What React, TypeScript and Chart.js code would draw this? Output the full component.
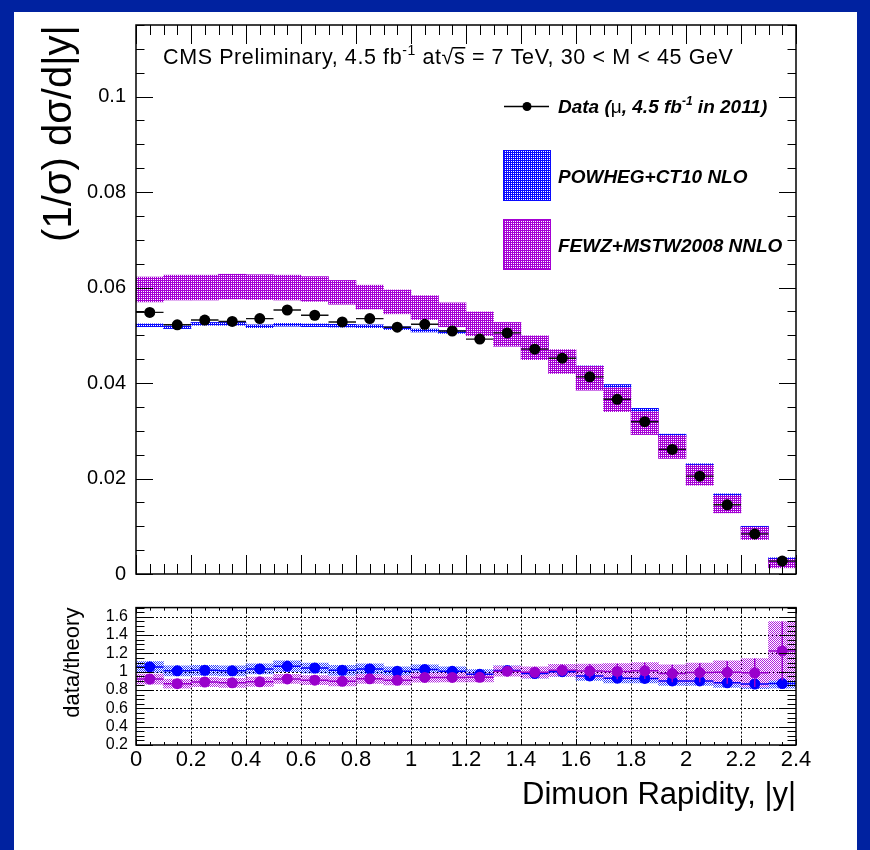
import React, { useEffect, useRef } from "react";
import { Chart, registerables } from "chart.js";

Chart.register(...registerables);

const FONT = '"Liberation Sans", Arial, Helvetica, sans-serif';
const FRAME_BLUE = "#0022a0";
const POWHEG_COLOR = "#0a0aff";
const FEWZ_COLOR = "#a400d4";
const POWHEG_POINT = "#0000ff";
const FEWZ_POINT = "#9900cc";

// Dimuon |y| bin centres, bins are 0.1 wide
const rapidity = [
  0.05, 0.15, 0.25, 0.35, 0.45, 0.55, 0.65, 0.75, 0.85, 0.95, 1.05, 1.15,
  1.25, 1.35, 1.45, 1.55, 1.65, 1.75, 1.85, 1.95, 2.05, 2.15, 2.25, 2.35,
];
const binHalfWidth = 0.05;

// Measured normalised cross section (1/sigma) dsigma/d|y|
const dataXsec = [
  0.0548, 0.0522, 0.0532, 0.0529, 0.0535, 0.0553, 0.0542, 0.0528, 0.0535, 0.0517, 0.0523, 0.0509,
  0.0492, 0.0505, 0.0471, 0.0452, 0.0413, 0.0366, 0.0319, 0.0261, 0.0205, 0.0145, 0.0084, 0.0027,
];

// POWHEG + CT10 NLO prediction and its half band
const powhegXsec = [
  0.0521, 0.0517, 0.0524, 0.0524, 0.0519, 0.0522, 0.0521, 0.052, 0.0519, 0.0515, 0.051, 0.0507,
  0.0506, 0.0498, 0.0481, 0.0452, 0.0433, 0.0394, 0.0344, 0.029, 0.0228, 0.0165, 0.0097, 0.0031,
];
const powhegErr = [
  0.0003, 0.0003, 0.0003, 0.0003, 0.0003, 0.0003, 0.0003, 0.0003, 0.0003, 0.0003, 0.0003, 0.0003,
  0.0003, 0.0003, 0.0003, 0.0003, 0.0003, 0.0003, 0.0003, 0.0003, 0.0003, 0.0003, 0.0003, 0.0003,
];

// FEWZ + MSTW2008 NNLO prediction and its half band
const fewzXsec = [
  0.0596, 0.06, 0.06, 0.0602, 0.0601, 0.06, 0.0597, 0.059, 0.058, 0.057, 0.0558, 0.0543,
  0.0524, 0.0502, 0.0474, 0.0445, 0.041, 0.0365, 0.0316, 0.0266, 0.0207, 0.0146, 0.0085, 0.0022,
];
const fewzErr = [
  0.0026, 0.0026, 0.0026, 0.0026, 0.0026, 0.0026, 0.0026, 0.0025, 0.0025, 0.0025, 0.0025, 0.0025,
  0.0025, 0.0025, 0.0025, 0.0025, 0.0025, 0.0025, 0.0024, 0.0024, 0.0021, 0.0018, 0.0013, 0.0009,
];

// Uncertainties on the data/theory ratios
const ratioPowhegErr = [
  0.06, 0.055, 0.055, 0.055, 0.055, 0.06, 0.055, 0.055, 0.055, 0.05, 0.05, 0.05,
  0.05, 0.05, 0.05, 0.05, 0.05, 0.05, 0.05, 0.05, 0.05, 0.05, 0.05, 0.05,
];
const ratioFewzErr = [
  0.055, 0.05, 0.05, 0.05, 0.05, 0.05, 0.05, 0.05, 0.05, 0.05, 0.05, 0.05,
  0.05, 0.055, 0.06, 0.065, 0.075, 0.085, 0.09, 0.095, 0.105, 0.125, 0.155, 0.32,
];

// Axis ticks
const xTicks = [0, 0.2, 0.4, 0.6, 0.8, 1, 1.2, 1.4, 1.6, 1.8, 2, 2.2, 2.4];
const mainYTicks = [0, 0.02, 0.04, 0.06, 0.08, 0.1];
const ratioYTicks = [0.2, 0.4, 0.6, 0.8, 1, 1.2, 1.4, 1.6];

const X_MIN = 0;
const X_MAX = 2.4;
const MAIN_Y_MAX = 0.115;
const RATIO_Y_MIN = 0.2;
const RATIO_Y_MAX = 1.7;

const ratioPowheg = dataXsec.map((d, i) => d / powhegXsec[i]);
const ratioFewz = dataXsec.map((d, i) => d / fewzXsec[i]);

const fmt = (v: number) => `${parseFloat(Number(v).toFixed(4))}`;

// Dotted hatch fill; "dense" leaves one pixel in four empty, otherwise a checkerboard
function makePattern(color: string, dense: boolean): CanvasPattern | string {
  const c = document.createElement("canvas");
  c.width = 2;
  c.height = 2;
  const g = c.getContext("2d");
  if (!g) return color;
  g.fillStyle = color;
  if (dense) {
    g.fillRect(0, 0, 2, 1);
    g.fillRect(0, 1, 1, 1);
  } else {
    g.fillRect(0, 0, 1, 1);
    g.fillRect(1, 1, 1, 1);
  }
  return g.createPattern(c, "repeat") ?? color;
}

type TickSpec = {
  minorStep: number;
  majorStep: number;
  majorLen: number;
  minorLen: number;
};

function isMultiple(v: number, step: number) {
  const q = v / step;
  return Math.abs(q - Math.round(q)) < 1e-6;
}

function drawFrameAndTicks(chart: Chart, xs: TickSpec, ys: TickSpec) {
  const ctx = chart.ctx;
  const { left, right, top, bottom } = chart.chartArea;
  const sx = chart.scales.x;
  const sy = chart.scales.y;
  ctx.save();
  ctx.strokeStyle = "#000";
  ctx.lineWidth = 1;
  ctx.beginPath();
  const nx = Math.round((sx.max - sx.min) / xs.minorStep);
  for (let i = 0; i <= nx; i++) {
    const v = sx.min + i * xs.minorStep;
    const px = Math.round(sx.getPixelForValue(v)) + 0.5;
    const len = isMultiple(v, xs.majorStep) ? xs.majorLen : xs.minorLen;
    ctx.moveTo(px, bottom);
    ctx.lineTo(px, bottom - len);
    ctx.moveTo(px, top);
    ctx.lineTo(px, top + len);
  }
  const ny = Math.round((sy.max - sy.min) / ys.minorStep);
  for (let i = 0; i <= ny; i++) {
    const v = sy.min + i * ys.minorStep;
    const py = Math.round(sy.getPixelForValue(v)) + 0.5;
    const len = isMultiple(v, ys.majorStep) ? ys.majorLen : ys.minorLen;
    ctx.moveTo(left, py);
    ctx.lineTo(left + len, py);
    ctx.moveTo(right, py);
    ctx.lineTo(right - len, py);
  }
  ctx.stroke();
  ctx.lineWidth = 1.5;
  ctx.strokeRect(left, top, right - left, bottom - top);
  ctx.restore();
}

type Run = { text: string; font: string; raise?: number; overline?: boolean };

function drawRuns(ctx: CanvasRenderingContext2D, x: number, baseline: number, runs: Run[], spacing = 0) {
  let cx = x;
  let radicalTop = 0;
  (ctx as any).letterSpacing = `${spacing}px`;
  for (const r of runs) {
    ctx.font = r.font;
    const y = baseline - (r.raise ?? 0);
    ctx.fillText(r.text, cx, y);
    const m = ctx.measureText(r.text);
    if (r.text === "√") radicalTop = m.actualBoundingBoxAscent;
    if (r.overline) {
      ctx.fillRect(cx - 1, y - radicalTop, m.width + 1, 1.5);
    }
    cx += m.width;
  }
  (ctx as any).letterSpacing = "0px";
  return cx;
}

function drawErrorBars(
  chart: Chart,
  values: number[],
  errs: number[] | null,
  color: string,
  width: number
) {
  const ctx = chart.ctx;
  const sx = chart.scales.x;
  const sy = chart.scales.y;
  const { left, right, top, bottom } = chart.chartArea;
  ctx.save();
  ctx.beginPath();
  ctx.rect(left, top, right - left, bottom - top);
  ctx.clip();
  ctx.strokeStyle = color;
  ctx.lineWidth = width;
  ctx.beginPath();
  rapidity.forEach((x, i) => {
    const py = sy.getPixelForValue(values[i]);
    ctx.moveTo(sx.getPixelForValue(x - binHalfWidth), py);
    ctx.lineTo(sx.getPixelForValue(x + binHalfWidth), py);
    if (errs) {
      const px = sx.getPixelForValue(x);
      ctx.moveTo(px, sy.getPixelForValue(values[i] - errs[i]));
      ctx.lineTo(px, sy.getPixelForValue(values[i] + errs[i]));
    }
  });
  ctx.stroke();
  ctx.restore();
}

const bandDefaults = {
  type: "bar" as const,
  borderWidth: 0,
  barPercentage: 1,
  categoryPercentage: 1,
  grouped: false,
};

function buildMain(canvas: HTMLCanvasElement, bluePattern: any, purplePattern: any) {
  const DATA_INDEX = 2;
  const mainDecor = {
    id: "mainDecor",
    beforeDatasetDraw(chart: Chart, args: any) {
      if (args.index === DATA_INDEX) drawErrorBars(chart, dataXsec, null, "#111", 1.4);
    },
    afterDraw(chart: Chart) {
      drawFrameAndTicks(
        chart,
        { minorStep: 0.05, majorStep: 0.2, majorLen: 19, minorLen: 10 },
        { minorStep: 0.005, majorStep: 0.02, majorLen: 17, minorLen: 8.5 }
      );
      const ctx = chart.ctx;
      ctx.save();
      ctx.fillStyle = "#000";
      ctx.textBaseline = "alphabetic";
      ctx.textAlign = "left";
      const f = (s: number) => `${s}px ${FONT}`;
      drawRuns(
        ctx,
        163,
        64,
        [
          { text: "CMS Preliminary, 4.5 fb", font: f(21.5) },
          { text: "-1", font: f(14), raise: 9 },
          { text: " at", font: f(21.5) },
          { text: "√", font: f(21.5) },
          { text: "s", font: f(21.5), overline: true },
          { text: " = 7 TeV, 30 < M < 45 GeV", font: f(21.5) },
        ],
        0.6
      );

      // legend
      const bi = (s: number) => `italic bold ${s}px ${FONT}`;
      ctx.strokeStyle = "#000";
      ctx.lineWidth = 1.5;
      ctx.beginPath();
      ctx.moveTo(504, 106.5);
      ctx.lineTo(549, 106.5);
      ctx.stroke();
      ctx.beginPath();
      ctx.arc(527, 106.5, 4.5, 0, Math.PI * 2);
      ctx.fill();
      drawRuns(ctx, 558, 113, [
        { text: "Data (", font: bi(19) },
        { text: "μ", font: `${19}px ${FONT}` },
        { text: ", 4.5 fb", font: bi(19) },
        { text: "-1", font: bi(12), raise: 8 },
        { text: " in 2011)", font: bi(19) },
      ]);

      const box = (y: number, pattern: any, color: string, label: string) => {
        ctx.fillStyle = pattern;
        ctx.fillRect(504, y, 46, 49);
        ctx.strokeStyle = color;
        ctx.lineWidth = 1;
        ctx.strokeRect(503.5, y - 0.5, 47, 50);
        ctx.fillStyle = "#000";
        ctx.font = bi(19);
        ctx.fillText(label, 558, y + 32);
      };
      box(151, bluePattern, POWHEG_COLOR, "POWHEG+CT10 NLO");
      box(220, purplePattern, FEWZ_COLOR, "FEWZ+MSTW2008 NNLO");
      ctx.restore();
    },
  };

  return new Chart(canvas, {
    type: "scatter",
    data: {
      datasets: [
        {
          ...bandDefaults,
          label: "POWHEG+CT10 NLO",
          data: rapidity.map((x, i) => ({ x, y: [powhegXsec[i] - powhegErr[i], powhegXsec[i] + powhegErr[i]] })),
          backgroundColor: bluePattern,
          order: 3,
        } as any,
        {
          ...bandDefaults,
          label: "FEWZ+MSTW2008 NNLO",
          data: rapidity.map((x, i) => ({ x, y: [fewzXsec[i] - fewzErr[i], fewzXsec[i] + fewzErr[i]] })),
          backgroundColor: purplePattern,
          order: 2,
        } as any,
        {
          type: "scatter",
          label: "Data",
          data: rapidity.map((x, i) => ({ x, y: dataXsec[i] })),
          pointRadius: 5.5,
          pointBackgroundColor: "#000",
          pointBorderColor: "#000",
          pointBorderWidth: 0,
          order: 1,
        },
      ],
    },
    options: {
      responsive: false,
      animation: false,
      devicePixelRatio: 1,
      events: [],
      layout: { padding: { left: 0, right: 74, top: 25, bottom: 26 } },
      plugins: { legend: { display: false }, tooltip: { enabled: false } },
      scales: {
        x: {
          type: "linear",
          min: X_MIN,
          max: X_MAX,
          offset: false,
          grid: { display: false, drawTicks: false },
          border: { display: false },
          ticks: { display: false },
          afterBuildTicks: (s: any) => {
            s.ticks = xTicks.map((value) => ({ value }));
          },
          afterFit: (s: any) => {
            s.height = 0;
          },
        },
        y: {
          type: "linear",
          min: 0,
          max: MAIN_Y_MAX,
          grid: { display: false, drawTicks: false },
          border: { display: false },
          ticks: {
            color: "#000",
            font: { family: FONT, size: 20 },
            padding: 10,
            autoSkip: false,
            callback: (v: any) => fmt(v),
          },
          afterBuildTicks: (s: any) => {
            s.ticks = mainYTicks.map((value) => ({ value }));
          },
          afterFit: (s: any) => {
            s.width = 136;
          },
          title: {
            display: true,
            text: "(1/σ) dσ/d|y|",
            align: "end",
            color: "#000",
            font: { family: FONT, size: 40 },
            padding: { top: 36, bottom: 0 },
          },
        },
      },
    } as any,
    plugins: [mainDecor],
  });
}

function buildRatio(canvas: HTMLCanvasElement, bluePattern: any, purplePattern: any) {
  const ratioDecor = {
    id: "ratioDecor",
    beforeDatasetsDraw(chart: Chart) {
      const ctx = chart.ctx;
      const { left, right, top, bottom } = chart.chartArea;
      const sx = chart.scales.x;
      const sy = chart.scales.y;
      ctx.save();
      ctx.strokeStyle = "#000";
      ctx.lineWidth = 1;
      ctx.setLineDash([2, 2]);
      ctx.beginPath();
      xTicks.forEach((v) => {
        if (v <= X_MIN || v >= X_MAX) return;
        const px = Math.round(sx.getPixelForValue(v)) + 0.5;
        ctx.moveTo(px, top);
        ctx.lineTo(px, bottom);
      });
      ratioYTicks.forEach((v) => {
        if (v <= RATIO_Y_MIN || v >= RATIO_Y_MAX) return;
        const py = Math.round(sy.getPixelForValue(v)) + 0.5;
        ctx.moveTo(left, py);
        ctx.lineTo(right, py);
      });
      ctx.stroke();
      ctx.restore();
    },
    beforeDatasetDraw(chart: Chart, args: any) {
      if (args.index === 2) drawErrorBars(chart, ratioPowheg, ratioPowhegErr, POWHEG_POINT, 1.5);
      if (args.index === 3) drawErrorBars(chart, ratioFewz, ratioFewzErr, FEWZ_POINT, 1.5);
    },
    afterDraw(chart: Chart) {
      drawFrameAndTicks(
        chart,
        { minorStep: 0.05, majorStep: 0.2, majorLen: 6, minorLen: 3 },
        { minorStep: 0.05, majorStep: 0.2, majorLen: 17, minorLen: 8.5 }
      );
    },
  };

  return new Chart(canvas, {
    type: "scatter",
    data: {
      datasets: [
        {
          ...bandDefaults,
          label: "POWHEG+CT10 NLO",
          data: rapidity.map((x, i) => ({ x, y: [ratioPowheg[i] - ratioPowhegErr[i], ratioPowheg[i] + ratioPowhegErr[i]] })),
          backgroundColor: bluePattern,
          order: 4,
        } as any,
        {
          ...bandDefaults,
          label: "FEWZ+MSTW2008 NNLO",
          data: rapidity.map((x, i) => ({ x, y: [ratioFewz[i] - ratioFewzErr[i], ratioFewz[i] + ratioFewzErr[i]] })),
          backgroundColor: purplePattern,
          order: 3,
        } as any,
        {
          type: "scatter",
          label: "data/POWHEG",
          data: rapidity.map((x, i) => ({ x, y: ratioPowheg[i] })),
          pointRadius: 5.5,
          pointBackgroundColor: POWHEG_POINT,
          pointBorderColor: POWHEG_POINT,
          pointBorderWidth: 0,
          order: 2,
        },
        {
          type: "scatter",
          label: "data/FEWZ",
          data: rapidity.map((x, i) => ({ x, y: ratioFewz[i] })),
          pointRadius: 5.5,
          pointBackgroundColor: FEWZ_POINT,
          pointBorderColor: FEWZ_POINT,
          pointBorderWidth: 0,
          order: 1,
        },
      ],
    },
    options: {
      responsive: false,
      animation: false,
      devicePixelRatio: 1,
      events: [],
      layout: { padding: { left: 0, right: 74, top: 17, bottom: 0 } },
      plugins: { legend: { display: false }, tooltip: { enabled: false } },
      scales: {
        x: {
          type: "linear",
          min: X_MIN,
          max: X_MAX,
          offset: false,
          grid: { display: false, drawTicks: false },
          border: { display: false },
          ticks: {
            color: "#000",
            font: { family: FONT, size: 22 },
            padding: 2,
            autoSkip: false,
            maxRotation: 0,
            callback: (v: any) => fmt(v),
          },
          afterBuildTicks: (s: any) => {
            s.ticks = xTicks.map((value) => ({ value }));
          },
          afterFit: (s: any) => {
            s.height = 105;
          },
          title: {
            display: true,
            text: "Dimuon Rapidity, |y|",
            align: "end",
            color: "#000",
            font: { family: FONT, size: 31 },
            padding: { top: 0, bottom: 36 },
          },
        },
        y: {
          type: "linear",
          min: RATIO_Y_MIN,
          max: RATIO_Y_MAX,
          grid: { display: false, drawTicks: false },
          border: { display: false },
          ticks: {
            color: "#000",
            font: { family: FONT, size: 16 },
            padding: 8,
            autoSkip: false,
            callback: (v: any) => fmt(v),
          },
          afterBuildTicks: (s: any) => {
            s.ticks = ratioYTicks.map((value) => ({ value }));
          },
          afterFit: (s: any) => {
            s.width = 136;
          },
          title: {
            display: true,
            text: "data/theory",
            align: "end",
            color: "#000",
            font: { family: FONT, size: 22 },
            padding: { top: 60, bottom: 0 },
          },
        },
      },
    } as any,
    plugins: [ratioDecor],
  });
}

export default function App() {
  const mainRef = useRef<HTMLCanvasElement>(null);
  const ratioRef = useRef<HTMLCanvasElement>(null);

  useEffect(() => {
    if (!mainRef.current || !ratioRef.current) return;
    const blue = makePattern(POWHEG_COLOR, true);
    const purple = makePattern(FEWZ_COLOR, true);
    const blueLight = makePattern("#2a3cff", false);
    const purpleLight = makePattern("#b020e0", false);
    const charts = [
      buildMain(mainRef.current, blue, purple),
      buildRatio(ratioRef.current, blueLight, purpleLight),
    ];
    return () => charts.forEach((c) => c.destroy());
  }, []);

  return (
    <div
      style={{
        position: "absolute",
        left: 0,
        top: 0,
        width: 870,
        height: 850,
        background: FRAME_BLUE,
        overflow: "hidden",
      }}
    >
      <div style={{ position: "absolute", left: 14, top: 12, width: 843, height: 838, background: "#fff" }} />
      <canvas
        ref={mainRef}
        width={870}
        height={600}
        style={{ position: "absolute", left: 0, top: 0, width: 870, height: 600 }}
      />
      <canvas
        ref={ratioRef}
        width={870}
        height={260}
        style={{ position: "absolute", left: 0, top: 590, width: 870, height: 260 }}
      />
    </div>
  );
}
